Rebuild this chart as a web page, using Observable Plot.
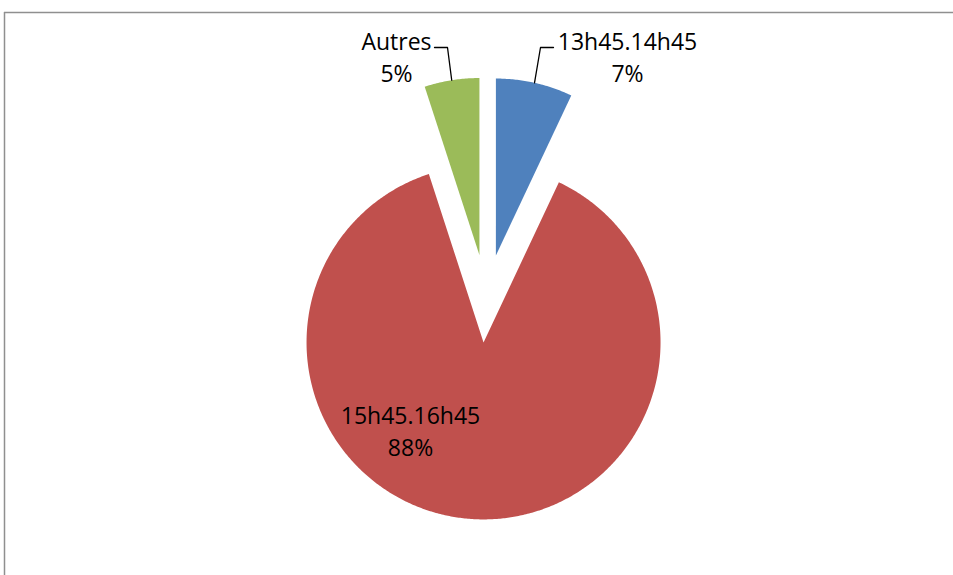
<!DOCTYPE html>
<html><head><meta charset="utf-8">
<script src="https://cdn.jsdelivr.net/npm/d3@7"></script>
<script src="https://cdn.jsdelivr.net/npm/@observablehq/plot@0.6"></script>
<style>html,body{margin:0;padding:0;background:#fff;overflow:hidden}</style>
</head><body><div id="chart"></div>
<script>
// ---- data ----
const categories = ["13h45.14h45", "15h45.16h45", "Autres"];
const percents = [7, 88, 5];
const colors = ["#4F81BD", "#C0504D", "#9BBB59"];

// ---- layout ----
const W = 953, H = 575;
const CX = 485.8, CY = 298, R = 177, EXPLODE = 44;
const labelLayout = [
  {x: 627, y: 55, leader: [[540, 47], [553, 47]]},
  {x: 410, y: 429, leader: null},
  {x: 396, y: 55, leader: [[447, 47], [434, 47]]}
];
const FONT = "'Open Sans', sans-serif";

const total = d3.sum(percents);
let acc = 0;
const slices = categories.map((c, i) => {
  const a0 = acc / total * 2 * Math.PI;
  acc += percents[i];
  const a1 = acc / total * 2 * Math.PI;
  const mid = (a0 + a1) / 2;
  return {c, i, a0, a1, mid, pct: percents[i],
    ox: CX + EXPLODE * Math.sin(mid), oy: CY - EXPLODE * Math.cos(mid)};
});

const polys = [];
for (const s of slices) {
  polys.push({c: s.c, x: s.ox, y: s.oy});
  const n = Math.max(2, Math.ceil((s.a1 - s.a0) / (Math.PI / 360)));
  for (let k = 0; k <= n; k++) {
    const a = s.a0 + (s.a1 - s.a0) * k / n;
    polys.push({c: s.c, x: s.ox + R * Math.sin(a), y: s.oy - R * Math.cos(a)});
  }
  polys.push({c: s.c, x: s.ox, y: s.oy});
}

const leaders = [];
for (const s of slices) {
  const L = labelLayout[s.i].leader;
  if (!L) continue;
  leaders.push({c: s.c, x: s.ox + R * Math.sin(s.mid), y: s.oy - R * Math.cos(s.mid)});
  for (const p of L) leaders.push({c: s.c, x: p[0], y: p[1]});
}

const chart = Plot.plot({
  width: W, height: H,
  margin: 0,
  x: {domain: [0, W], range: [0, W], axis: null},
  y: {domain: [0, H], range: [0, H], axis: null},
  color: {domain: categories, range: colors},
  style: {fontFamily: FONT, background: "#fff"},
  marks: [
    Plot.ruleY([12], {x1: 4, x2: W, stroke: "#8f8f8f", strokeWidth: 1.5}),
    Plot.ruleX([4], {y1: 12, y2: H, stroke: "#8f8f8f", strokeWidth: 1.5}),
    Plot.line(polys, {x: "x", y: "y", z: "c", fill: "c", stroke: "none", curve: "linear"}),
    Plot.line(leaders, {x: "x", y: "y", z: "c", stroke: "#000", strokeWidth: 1.3}),
    Plot.text(slices, {
      x: d => labelLayout[d.i].x, y: d => labelLayout[d.i].y,
      text: d => `${d.c}\n${d.pct}%`,
      textAnchor: "middle", lineAnchor: "middle", lineHeight: 1.4,
      fontSize: 23, fill: "#000"
    })
  ]
});
document.getElementById("chart").append(chart);
</script>
</body></html>
